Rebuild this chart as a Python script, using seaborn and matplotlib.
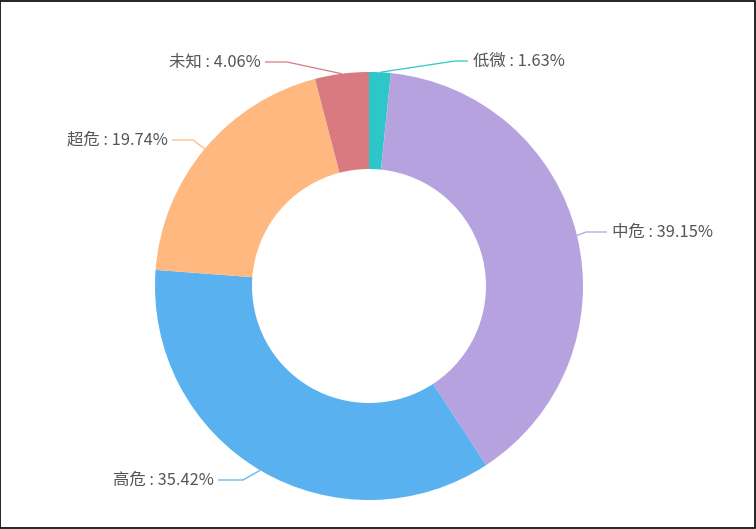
import numpy as np
import matplotlib
matplotlib.use("Agg")
import matplotlib.pyplot as plt
import seaborn as sns
from matplotlib.patches import Rectangle

# ---- data ----
categories = ["低微", "中危", "高危", "超危", "未知"]
percents = [1.63, 39.15, 35.42, 19.74, 4.06]
colors = ["#2EC7C9", "#B6A2DE", "#5AB1EF", "#FFB980", "#D87A80"]

# ---- layout (pixel coords, y from top) ----
W, H = 756, 529
cx, cy = 369, 286
R_out, R_in = 214, 117
# elbow point, line end point, text side for each label
elbows = [(455, 61), (586, 232), (243, 480), (193, 140), (287, 62)]
ends = [(468, 61), (607, 232), (218, 480), (172, 140), (265, 62)]
sides = ["left", "left", "right", "right", "right"]

sns.set_theme(style="white")
plt.rcParams["font.family"] = ["Noto Sans CJK SC", "DejaVu Sans"]

fig = plt.figure(figsize=(W / 100, H / 100), dpi=100)
ax = fig.add_axes([0, 0, 1, 1])

ax.pie(percents, colors=colors, startangle=90, counterclock=False,
       radius=R_out, center=(cx, H - cy),
       wedgeprops=dict(width=R_out - R_in, linewidth=0))

ax.set_xlim(0, W)
ax.set_ylim(0, H)
ax.set_aspect("equal")
ax.axis("off")

total = sum(percents)
cum = 0.0
for cat, p, col, el, en, side in zip(categories, percents, colors, elbows, ends, sides):
    mid = (cum + p / 2) / total * 2 * np.pi
    cum += p
    px = cx + R_out * np.sin(mid)
    py = cy - R_out * np.cos(mid)
    xs = [px, el[0], en[0]]
    ys = [H - py, H - el[1], H - en[1]]
    ax.plot(xs, ys, color=col, lw=0.9, solid_capstyle="butt")
    tx = en[0] + (5 if side == "left" else -4)
    ax.text(tx, H - en[1], f"{cat} : {p:.2f}%", ha=side, va="center",
            fontsize=11.8, color="#555555")

fig.add_artist(Rectangle((0.0005, 0.001), 0.998, 0.997, transform=fig.transFigure,
                         fill=False, edgecolor="black", linewidth=1.2))

fig.savefig("out.png", dpi=100, facecolor="white")
